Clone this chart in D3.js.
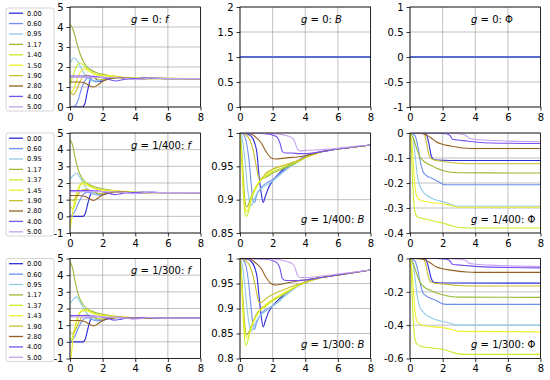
<!DOCTYPE html>
<html><head><meta charset="utf-8">
<script src="https://cdn.jsdelivr.net/npm/d3@7"></script>
<style>body{margin:0;background:#fff}svg{display:block}</style>
</head><body>
<script>
// ---------------- data ----------------
const COLORS = ["#2b2bd9","#6f8ff0","#8fcbe6","#99b833","#c6ee2a","#eef02a","#c9be2e","#94601e","#7652f0","#c6a2f2"];
const LABELS_G0   = ["0.00","0.60","0.95","1.17","1.40","1.50","1.90","2.80","4.00","5.00"];
const LABELS_G400 = ["0.00","0.60","0.95","1.17","1.37","1.45","1.90","2.80","4.00","5.00"];
const LABELS_G300 = ["0.00","0.60","0.95","1.17","1.37","1.43","1.90","2.80","4.00","5.00"];
const G_TEXT = ["0","1/400","1/300"];
const T_TICKS = [0,2,4,6,8];
const F0_TICKS = [0,1,2,3,4,5];
const F_TICKS = [-1,0,1,2,3,4,5];
const B0_TICKS = [0,0.5,1,1.5,2];
const B400_TICKS = [0.85,0.9,0.95,1];
const B300_TICKS = [0.8,0.85,0.9,0.95,1];
const P0_TICKS = [-1,-0.5,0,0.5,1];
const P400_TICKS = [-0.4,-0.3,-0.2,-0.1,0];
const P300_TICKS = [-0.6,-0.4,-0.2,0];

// f, g = 0
const F0 = [
 [[0,0],[0.75,0],[0.9,0.15],[1.05,0.7],[1.2,1.25],[1.35,1.5],[1.5,1.48],[1.7,1.3],[1.9,1.28],[2.3,1.4],[2.8,1.47],[3.3,1.42],[4,1.4],[5,1.44],[6,1.42],[8,1.42]],
 [[0,0],[0.3,0.05],[0.5,0.35],[0.7,0.9],[0.9,1.3],[1.1,1.45],[1.35,1.35],[1.6,1.25],[2,1.35],[2.5,1.47],[3,1.44],[4,1.4],[5,1.43],[8,1.42]],
 [[0,2.2],[0.25,2.45],[0.5,2.25],[0.8,1.75],[1.1,1.45],[1.4,1.3],[1.8,1.35],[2.3,1.45],[3,1.45],[4,1.41],[8,1.42]],
 [[0,4.15],[0.2,3.85],[0.4,3.25],[0.6,2.7],[0.8,2.3],[1,2.05],[1.3,1.85],[1.6,1.72],[2,1.63],[2.5,1.56],[3,1.5],[4,1.45],[5,1.43],[8,1.42]],
 [[0,1.1],[0.2,1.6],[0.4,2.05],[0.6,2.2],[0.8,2.12],[1,1.95],[1.3,1.75],[1.6,1.62],[2,1.57],[2.5,1.52],[3,1.47],[4,1.43],[8,1.42]],
 [[0,0.7],[0.2,0.85],[0.4,1.3],[0.6,1.7],[0.8,1.9],[1,1.88],[1.3,1.72],[1.6,1.62],[2,1.58],[2.5,1.57],[3,1.52],[3.5,1.47],[4,1.43],[8,1.42]],
 [[0,0.75],[0.2,0.62],[0.4,0.85],[0.6,1.25],[0.8,1.52],[1,1.6],[1.3,1.52],[1.6,1.42],[2,1.36],[2.5,1.42],[3,1.47],[4,1.42],[8,1.42]],
 [[0,1.25],[0.5,1.25],[0.9,1.2],[1.2,1.06],[1.45,1.0],[1.7,1.1],[2,1.28],[2.5,1.42],[3,1.48],[3.5,1.45],[4,1.41],[5,1.43],[8,1.42]],
 [[0,1.55],[1,1.55],[1.5,1.53],[2,1.48],[2.4,1.38],[2.8,1.3],[3.2,1.36],[3.6,1.43],[4,1.42],[4.5,1.46],[5,1.44],[6,1.42],[8,1.42]],
 [[0,1.48],[2,1.48],[3,1.46],[3.5,1.42],[4,1.37],[4.5,1.41],[5,1.45],[5.5,1.43],[6,1.42],[8,1.42]]
];
// f, g = 1/400
const F400 = [
 [[0,0],[0.8,0],[0.95,0.2],[1.1,0.8],[1.25,1.3],[1.4,1.5],[1.55,1.45],[1.75,1.3],[2,1.3],[2.4,1.4],[2.9,1.47],[3.4,1.42],[4,1.4],[5,1.44],[6,1.42],[8,1.42]],
 [[0,0],[0.1,0.05],[0.3,0.3],[0.5,0.75],[0.7,1.15],[0.9,1.4],[1.1,1.45],[1.4,1.35],[1.7,1.28],[2.1,1.37],[2.6,1.46],[3.2,1.44],[4,1.4],[5,1.43],[8,1.42]],
 [[0,2.25],[0.2,2.45],[0.4,2.6],[0.6,2.35],[0.9,1.85],[1.2,1.5],[1.5,1.33],[1.9,1.35],[2.4,1.45],[3,1.45],[4,1.41],[8,1.42]],
 [[0,4.6],[0.15,4.3],[0.3,3.6],[0.5,2.8],[0.7,2.35],[0.9,2.1],[1.2,1.9],[1.5,1.78],[2,1.65],[2.5,1.57],[3,1.5],[4,1.45],[5,1.43],[8,1.42]],
 [[0,0.6],[0.2,0.45],[0.4,1.1],[0.6,1.8],[0.8,2.05],[1,1.98],[1.3,1.78],[1.6,1.65],[2,1.58],[2.5,1.53],[3,1.48],[4,1.43],[8,1.42]],
 [[0,-0.75],[0.1,-0.2],[0.2,0.5],[0.35,1.25],[0.5,1.7],[0.7,1.95],[1,1.88],[1.4,1.7],[1.8,1.6],[2.3,1.56],[3,1.52],[3.5,1.48],[4,1.43],[8,1.42]],
 [[0,1.0],[0.2,0.95],[0.4,1.15],[0.6,1.45],[0.8,1.6],[1,1.62],[1.3,1.52],[1.6,1.42],[2,1.36],[2.5,1.42],[3,1.47],[4,1.42],[8,1.42]],
 [[0,1.25],[0.5,1.25],[0.9,1.2],[1.2,1.05],[1.45,0.95],[1.7,1.08],[2,1.28],[2.5,1.42],[3,1.48],[3.5,1.45],[4,1.41],[5,1.43],[8,1.42]],
 [[0,1.55],[1,1.55],[1.5,1.53],[2,1.48],[2.4,1.38],[2.7,1.3],[3.1,1.35],[3.5,1.43],[4,1.42],[4.5,1.46],[5,1.44],[6,1.42],[8,1.42]],
 [[0,1.48],[2,1.48],[3,1.46],[3.5,1.42],[3.9,1.36],[4.4,1.4],[4.9,1.46],[5.4,1.43],[6,1.42],[8,1.42]]
];
// f, g = 1/300
const F300 = [
 [[0,0],[0.8,0],[0.95,0.2],[1.1,0.8],[1.25,1.3],[1.4,1.5],[1.55,1.45],[1.75,1.3],[2,1.3],[2.4,1.4],[2.9,1.47],[3.4,1.42],[4,1.4],[5,1.44],[6,1.42],[8,1.42]],
 [[0,0],[0.1,0.05],[0.3,0.35],[0.5,0.8],[0.7,1.2],[0.9,1.42],[1.1,1.45],[1.4,1.33],[1.7,1.26],[2.1,1.36],[2.6,1.46],[3.2,1.44],[4,1.4],[5,1.43],[8,1.42]],
 [[0,2.3],[0.2,2.55],[0.4,2.7],[0.6,2.4],[0.9,1.9],[1.2,1.52],[1.5,1.33],[1.9,1.34],[2.4,1.45],[3,1.45],[4,1.41],[8,1.42]],
 [[0,4.8],[0.15,4.45],[0.3,3.7],[0.5,2.85],[0.7,2.4],[0.9,2.12],[1.2,1.9],[1.5,1.78],[2,1.65],[2.5,1.57],[3,1.5],[4,1.45],[5,1.43],[8,1.42]],
 [[0,0.0],[0.15,0.3],[0.35,1.0],[0.55,1.6],[0.75,1.9],[1,1.95],[1.3,1.8],[1.6,1.66],[2,1.58],[2.5,1.53],[3,1.48],[4,1.43],[8,1.42]],
 [[0,-1.6],[0.08,-0.8],[0.2,0.3],[0.35,1.1],[0.5,1.6],[0.7,1.85],[1,1.85],[1.4,1.7],[1.8,1.6],[2.3,1.56],[3,1.52],[3.5,1.48],[4,1.43],[8,1.42]],
 [[0,0.55],[0.2,0.5],[0.4,0.85],[0.6,1.3],[0.8,1.55],[1,1.6],[1.3,1.52],[1.6,1.42],[2,1.36],[2.5,1.42],[3,1.47],[4,1.42],[8,1.42]],
 [[0,1.28],[0.5,1.28],[0.9,1.22],[1.2,1.05],[1.45,0.95],[1.7,1.08],[2,1.28],[2.5,1.42],[3,1.48],[3.5,1.45],[4,1.41],[5,1.43],[8,1.42]],
 [[0,1.58],[1,1.58],[1.5,1.55],[2,1.48],[2.4,1.38],[2.7,1.3],[3.1,1.35],[3.5,1.43],[4,1.42],[4.5,1.46],[5,1.44],[6,1.42],[8,1.42]],
 [[0,1.5],[2,1.5],[3,1.47],[3.5,1.42],[3.9,1.36],[4.4,1.4],[4.9,1.46],[5.4,1.43],[6,1.42],[8,1.42]]
];
// B, g = 0
const B0 = [
 [[0,1],[8,1]],[[0,1],[8,1]],[[0,1],[8,1]],[[0,1],[8,1]],[[0,1],[8,1]],
 [[0,1],[8,1]],[[0,1],[8,1]],[[0,1],[8,1]],[[0,1],[8,1]],[[0,1],[8,1]]
];
// B, g = 1/400
const B400 = [
 [[0,1],[0.4,0.999],[0.7,0.995],[0.9,0.985],[1.05,0.968],[1.15,0.94],[1.3,0.91],[1.42,0.896],[1.55,0.905],[1.75,0.918],[2,0.928],[2.5,0.942],[3,0.952],[3.5,0.958],[4,0.965],[5,0.972],[6,0.976],[7,0.979],[8,0.982]],
 [[0,1],[0.2,0.998],[0.4,0.985],[0.55,0.96],[0.7,0.92],[0.8,0.899],[0.9,0.896],[1.0,0.905],[1.3,0.918],[1.7,0.926],[2,0.93],[2.5,0.94],[3,0.949],[3.5,0.957],[4,0.964],[5,0.972],[6,0.976],[7,0.979],[8,0.982]],
 [[0,1],[0.15,0.99],[0.3,0.96],[0.45,0.92],[0.6,0.895],[0.7,0.891],[0.85,0.9],[1.1,0.912],[1.5,0.92],[2,0.928],[2.5,0.938],[3,0.948],[3.5,0.956],[4,0.964],[5,0.972],[6,0.976],[7,0.979],[8,0.982]],
 [[0,1],[0.1,0.975],[0.2,0.935],[0.3,0.9],[0.4,0.889],[0.5,0.892],[0.7,0.905],[1.0,0.92],[1.3,0.93],[1.7,0.935],[2,0.94],[2.5,0.945],[3,0.95],[3.5,0.956],[4,0.963],[5,0.972],[6,0.976],[7,0.979],[8,0.982]],
 [[0,1],[0.1,0.96],[0.2,0.91],[0.3,0.88],[0.38,0.875],[0.5,0.88],[0.7,0.9],[1.0,0.918],[1.3,0.93],[1.7,0.937],[2,0.942],[2.5,0.947],[3,0.952],[3.5,0.957],[4,0.963],[5,0.972],[6,0.976],[7,0.979],[8,0.982]],
 [[0,1],[0.1,0.965],[0.2,0.92],[0.3,0.89],[0.42,0.882],[0.55,0.89],[0.8,0.91],[1.1,0.925],[1.5,0.935],[2,0.945],[2.5,0.95],[3,0.954],[3.5,0.958],[4,0.963],[5,0.972],[6,0.976],[7,0.979],[8,0.982]],
 [[0,1],[0.3,0.998],[0.6,0.99],[0.8,0.975],[1.0,0.95],[1.15,0.933],[1.3,0.932],[1.6,0.94],[2,0.946],[2.5,0.95],[3,0.954],[3.5,0.958],[4,0.963],[5,0.972],[6,0.976],[7,0.979],[8,0.982]],
 [[0,1],[0.6,0.999],[1.0,0.993],[1.3,0.985],[1.6,0.972],[1.9,0.963],[2.2,0.961],[2.6,0.962],[3,0.963],[3.5,0.964],[4,0.966],[5,0.972],[6,0.976],[7,0.979],[8,0.982]],
 [[0,1],[1.5,0.999],[2.2,0.995],[2.45,0.985],[2.6,0.972],[2.8,0.97],[3.2,0.97],[3.6,0.969],[4,0.969],[5,0.972],[6,0.976],[7,0.979],[8,0.982]],
 [[0,1],[2,0.999],[3,0.995],[3.3,0.99],[3.55,0.975],[3.7,0.973],[4,0.974],[5,0.975],[6,0.977],[7,0.98],[8,0.982]]
];
// B, g = 1/300
const B300 = [
 [[0,1],[0.4,0.999],[0.7,0.994],[0.9,0.982],[1.05,0.962],[1.15,0.93],[1.3,0.885],[1.42,0.863],[1.55,0.875],[1.75,0.893],[2,0.905],[2.5,0.922],[3,0.935],[3.5,0.945],[4,0.953],[5,0.962],[6,0.967],[7,0.972],[8,0.977]],
 [[0,1],[0.2,0.997],[0.4,0.98],[0.55,0.945],[0.7,0.895],[0.8,0.865],[0.88,0.858],[1.0,0.87],[1.3,0.89],[1.7,0.9],[2,0.905],[2.5,0.918],[3,0.932],[3.5,0.944],[4,0.952],[5,0.962],[6,0.967],[7,0.972],[8,0.977]],
 [[0,1],[0.15,0.985],[0.3,0.945],[0.45,0.895],[0.6,0.862],[0.72,0.855],[0.85,0.865],[1.1,0.88],[1.5,0.893],[2,0.905],[2.5,0.918],[3,0.932],[3.5,0.944],[4,0.952],[5,0.962],[6,0.967],[7,0.972],[8,0.977]],
 [[0,1],[0.1,0.965],[0.2,0.91],[0.3,0.865],[0.42,0.848],[0.55,0.853],[0.75,0.87],[1.0,0.888],[1.3,0.9],[1.7,0.91],[2,0.917],[2.5,0.925],[3,0.935],[3.5,0.945],[4,0.952],[5,0.962],[6,0.967],[7,0.972],[8,0.977]],
 [[0,1],[0.08,0.96],[0.18,0.89],[0.28,0.84],[0.36,0.826],[0.45,0.832],[0.6,0.852],[0.85,0.875],[1.2,0.895],[1.6,0.905],[2,0.915],[2.5,0.925],[3,0.935],[3.5,0.945],[4,0.952],[5,0.962],[6,0.967],[7,0.972],[8,0.977]],
 [[0,1],[0.1,0.955],[0.2,0.895],[0.32,0.85],[0.45,0.84],[0.58,0.85],[0.8,0.872],[1.1,0.89],[1.5,0.905],[2,0.918],[2.5,0.928],[3,0.937],[3.5,0.946],[4,0.952],[5,0.962],[6,0.967],[7,0.972],[8,0.977]],
 [[0,1],[0.3,0.997],[0.6,0.985],[0.8,0.965],[1.0,0.935],[1.15,0.913],[1.3,0.912],[1.6,0.92],[2,0.928],[2.5,0.935],[3,0.942],[3.5,0.948],[4,0.953],[5,0.962],[6,0.967],[7,0.972],[8,0.977]],
 [[0,1],[0.6,0.999],[1.0,0.99],[1.3,0.98],[1.6,0.962],[1.9,0.95],[2.2,0.947],[2.6,0.949],[3,0.952],[3.5,0.955],[4,0.957],[5,0.962],[6,0.967],[7,0.972],[8,0.977]],
 [[0,1],[1.5,0.999],[2.2,0.993],[2.45,0.98],[2.6,0.96],[2.8,0.956],[3.2,0.956],[3.6,0.956],[4,0.957],[5,0.962],[6,0.967],[7,0.972],[8,0.977]],
 [[0,1],[2,0.999],[3,0.993],[3.3,0.987],[3.55,0.965],[3.7,0.962],[4,0.962],[5,0.965],[6,0.969],[7,0.973],[8,0.977]]
];
// Phi, g = 0
const P0 = [
 [[0,0],[8,0]],[[0,0],[8,0]],[[0,0],[8,0]],[[0,0],[8,0]],[[0,0],[8,0]],
 [[0,0],[8,0]],[[0,0],[8,0]],[[0,0],[8,0]],[[0,0],[8,0]],[[0,0],[8,0]]
];
// Phi, g = 1/400
const P400 = [
 [[0,0],[0.9,0],[1.0,-0.005],[1.15,-0.04],[1.3,-0.09],[1.45,-0.106],[1.6,-0.108],[2,-0.109],[3,-0.11],[8,-0.11]],
 [[0,0],[0.3,-0.01],[0.5,-0.06],[0.65,-0.12],[0.8,-0.155],[1.0,-0.17],[1.3,-0.18],[1.6,-0.19],[1.8,-0.197],[2.0,-0.205],[2.2,-0.207],[3,-0.207],[8,-0.207]],
 [[0,0],[0.15,-0.01],[0.3,-0.08],[0.45,-0.17],[0.6,-0.21],[0.8,-0.235],[1.0,-0.248],[1.3,-0.26],[1.6,-0.268],[2.0,-0.275],[2.5,-0.285],[2.8,-0.292],[3.2,-0.293],[8,-0.293]],
 [[0,0],[0.2,-0.02],[0.4,-0.06],[0.6,-0.095],[0.8,-0.11],[1.0,-0.12],[1.3,-0.13],[1.6,-0.14],[2.0,-0.15],[2.5,-0.157],[3,-0.159],[8,-0.16]],
 [[0,0],[0.08,-0.05],[0.15,-0.18],[0.25,-0.29],[0.35,-0.325],[0.5,-0.337],[0.8,-0.342],[1.2,-0.348],[1.6,-0.355],[2.0,-0.36],[2.5,-0.37],[3.0,-0.378],[3.5,-0.38],[8,-0.38]],
 [[0,0],[0.1,-0.03],[0.2,-0.12],[0.3,-0.21],[0.4,-0.25],[0.6,-0.268],[1.0,-0.275],[1.5,-0.28],[2.0,-0.283],[2.5,-0.29],[3,-0.297],[8,-0.297]],
 [[0,0],[0.8,-0.002],[0.95,-0.02],[1.1,-0.07],[1.25,-0.1],[1.5,-0.108],[2,-0.113],[2.5,-0.118],[3,-0.121],[4,-0.123],[8,-0.123]],
 [[0,0],[0.6,-0.001],[1.0,-0.008],[1.3,-0.02],[1.6,-0.035],[2.0,-0.045],[2.5,-0.052],[3,-0.058],[3.5,-0.061],[4,-0.062],[8,-0.062]],
 [[0,0],[1.5,0],[2.2,-0.003],[2.45,-0.01],[2.6,-0.025],[2.9,-0.028],[3.5,-0.032],[4,-0.036],[5,-0.04],[8,-0.042]],
 [[0,0],[2,0],[3,-0.003],[3.4,-0.008],[3.6,-0.02],[3.9,-0.025],[5,-0.03],[8,-0.035]]
];
// Phi, g = 1/300
const P300 = [
 [[0,0],[0.9,0],[1.0,-0.01],[1.15,-0.06],[1.3,-0.12],[1.45,-0.143],[1.6,-0.146],[2,-0.147],[8,-0.148]],
 [[0,0],[0.3,-0.015],[0.5,-0.08],[0.65,-0.16],[0.8,-0.205],[1.0,-0.225],[1.3,-0.24],[1.6,-0.252],[1.8,-0.262],[2.0,-0.272],[2.2,-0.275],[8,-0.275]],
 [[0,0],[0.15,-0.015],[0.3,-0.11],[0.45,-0.23],[0.6,-0.29],[0.8,-0.32],[1.0,-0.34],[1.3,-0.355],[1.6,-0.368],[2.0,-0.378],[2.5,-0.39],[2.8,-0.398],[3.2,-0.4],[8,-0.4]],
 [[0,0],[0.2,-0.03],[0.4,-0.09],[0.6,-0.14],[0.8,-0.165],[1.0,-0.18],[1.3,-0.193],[1.6,-0.205],[2,-0.218],[2.5,-0.228],[3,-0.232],[8,-0.233]],
 [[0,0],[0.08,-0.08],[0.15,-0.27],[0.25,-0.44],[0.35,-0.5],[0.5,-0.52],[0.8,-0.53],[1.2,-0.535],[1.6,-0.54],[2,-0.545],[2.5,-0.56],[3,-0.572],[3.5,-0.575],[8,-0.575]],
 [[0,0],[0.1,-0.05],[0.2,-0.18],[0.3,-0.31],[0.4,-0.37],[0.6,-0.395],[1,-0.405],[1.5,-0.41],[2,-0.415],[2.5,-0.425],[3,-0.437],[8,-0.44]],
 [[0,0],[0.8,-0.003],[0.95,-0.03],[1.1,-0.1],[1.25,-0.14],[1.5,-0.148],[2,-0.153],[2.5,-0.158],[3,-0.162],[4,-0.165],[8,-0.165]],
 [[0,0],[0.6,-0.001],[1.0,-0.012],[1.3,-0.03],[1.6,-0.05],[2,-0.062],[2.5,-0.07],[3,-0.077],[3.5,-0.081],[4,-0.083],[8,-0.083]],
 [[0,0],[1.5,0],[2.2,-0.004],[2.45,-0.015],[2.6,-0.035],[2.9,-0.038],[3.5,-0.043],[4,-0.047],[5,-0.052],[8,-0.056]],
 [[0,0],[2,0],[3,-0.004],[3.4,-0.01],[3.6,-0.028],[3.9,-0.033],[5,-0.04],[8,-0.048]]
];

// ---------------- layout ----------------
const W = 550, H = 380;
const COL_X = [70, 240, 410];
const ROW_Y = [7, 133, 258.5];
const PW = 130.5, PH = 100;
const FONT = "'DejaVu Sans', 'Liberation Sans', sans-serif";

const panels = [
 {r:0,c:0,data:F0,ticks:F0_TICKS,sym:"f",it:true,pos:"top"},
 {r:0,c:1,data:B0,ticks:B0_TICKS,sym:"B",it:true,pos:"top",rev:true},
 {r:0,c:2,data:P0,ticks:P0_TICKS,sym:"Φ",it:false,pos:"top",rev:true},
 {r:1,c:0,data:F400,ticks:F_TICKS,sym:"f",it:true,pos:"top"},
 {r:1,c:1,data:B400,ticks:B400_TICKS,sym:"B",it:true,pos:"bottom"},
 {r:1,c:2,data:P400,ticks:P400_TICKS,sym:"Φ",it:false,pos:"bottom"},
 {r:2,c:0,data:F300,ticks:F_TICKS,sym:"f",it:true,pos:"top"},
 {r:2,c:1,data:B300,ticks:B300_TICKS,sym:"B",it:true,pos:"bottom"},
 {r:2,c:2,data:P300,ticks:P300_TICKS,sym:"Φ",it:false,pos:"bottom"}
];
const LEGENDS = [LABELS_G0, LABELS_G400, LABELS_G300];

const svg = d3.select("body").append("svg").attr("width", W).attr("height", H)
  .style("font-family", FONT);
svg.append("rect").attr("width", W).attr("height", H).attr("fill", "#fff");
const defs = svg.append("defs");

panels.forEach((p, i) => {
  const x0 = COL_X[p.c], y0 = ROW_Y[p.r];
  const x = d3.scaleLinear().domain([0, 8]).range([x0, x0 + PW]);
  const y = d3.scaleLinear().domain([p.ticks[0], p.ticks[p.ticks.length - 1]]).range([y0 + PH, y0]);
  const g = svg.append("g");

  // grid
  g.selectAll(null).data(T_TICKS).join("line")
    .attr("x1", d => x(d)).attr("x2", d => x(d)).attr("y1", y0).attr("y2", y0 + PH)
    .attr("stroke", "#b0b0b0").attr("stroke-width", 0.8);
  g.selectAll(null).data(p.ticks).join("line")
    .attr("y1", d => y(d)).attr("y2", d => y(d)).attr("x1", x0).attr("x2", x0 + PW)
    .attr("stroke", "#b0b0b0").attr("stroke-width", 0.8);

  // lines
  const cid = "clip" + i;
  defs.append("clipPath").attr("id", cid).append("rect")
    .attr("x", x0).attr("y", y0).attr("width", PW).attr("height", PH);
  const line = d3.line().x(d => x(d[0])).y(d => y(d[1])).curve(d3.curveMonotoneX);
  const idx = p.data.map((_, k) => k);
  if (p.rev) idx.reverse();
  const lg = g.append("g").attr("clip-path", `url(#${cid})`);
  idx.forEach(k => {
    lg.append("path").attr("d", line(p.data[k])).attr("fill", "none")
      .attr("stroke", COLORS[k]).attr("stroke-width", 1.1);
  });

  // axes
  const ax = g.append("g").attr("transform", `translate(0,${y0 + PH})`)
    .call(d3.axisBottom(x).tickValues(T_TICKS).tickFormat(String).tickSize(3.5).tickPadding(3));
  const ay = g.append("g").attr("transform", `translate(${x0},0)`)
    .call(d3.axisLeft(y).tickValues(p.ticks).tickFormat(String).tickSize(3.5).tickPadding(3));
  [ax, ay].forEach(a => {
    a.select(".domain").remove();
    a.selectAll("text").attr("font-family", FONT).attr("font-size", 10).attr("fill", "#000");
    a.selectAll("line").attr("stroke", "#000").attr("stroke-width", 0.8);
  });

  // frame
  g.append("rect").attr("x", x0).attr("y", y0).attr("width", PW).attr("height", PH)
    .attr("fill", "none").attr("stroke", "#000").attr("stroke-width", 0.8);

  // title
  const ty = p.pos === "top" ? y0 + 15.5 : y0 + PH - 10.5;
  const t = g.append("text").attr("x", x0 + 0.468 * PW).attr("y", ty)
    .attr("font-size", 10).attr("fill", "#000");
  t.append("tspan").attr("font-style", "italic").text("g");
  t.append("tspan").text(" = " + G_TEXT[p.r] + ": ");
  t.append("tspan").attr("font-style", p.it ? "italic" : "normal").text(p.sym);
});

// legends
LEGENDS.forEach((labels, r) => {
  const top = ROW_Y[r] + (r === 0 ? 1 : 0);
  const g = svg.append("g");
  g.append("rect").attr("x", 6).attr("y", top).attr("width", 48).attr("height", 103)
    .attr("rx", 2).attr("fill", "#fff").attr("fill-opacity", 0.8)
    .attr("stroke", "#cccccc").attr("stroke-width", 0.8);
  labels.forEach((lab, k) => {
    const yy = top + 5.2 + k * 10.4;
    g.append("line").attr("x1", 9).attr("x2", 23).attr("y1", yy).attr("y2", yy)
      .attr("stroke", COLORS[k]).attr("stroke-width", 1.3);
    g.append("text").attr("x", 27).attr("y", yy + 2.4).attr("font-size", 6.6)
      .attr("fill", "#000").text(lab);
  });
});
</script>
</body></html>
